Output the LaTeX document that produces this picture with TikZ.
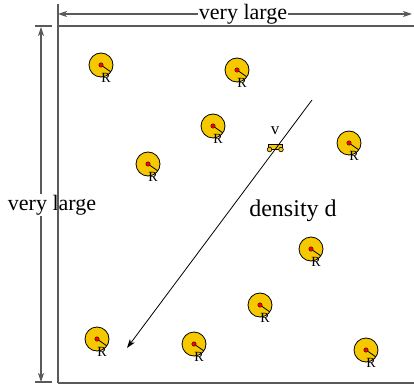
\documentclass[tikz,border=0pt]{standalone}
\usepackage{fontspec}
\setmainfont{Liberation Serif}
\usetikzlibrary{arrows.meta,calc}
\definecolor{disc}{RGB}{245,200,0}
\definecolor{dimgray}{RGB}{90,90,90}
\tikzset{
  disk/.style={circle,draw=black,fill=disc,line width=0.8pt,minimum size=24pt,inner sep=0pt},
  dot/.style={circle,fill=red,draw=black,line width=0.3pt,minimum size=4.5pt,inner sep=0pt},
  rlab/.style={font=\fontsize{14}{14}\selectfont,inner sep=0pt},
  vlabst/.style={font=\fontsize{17}{17}\selectfont,inner sep=0pt},
  dimline/.style={draw=dimgray,line width=1.1pt},
  arr/.style={-{Stealth[length=9pt,width=6pt,inset=2.5pt]}},
  dimarr/.style={{Stealth[length=9pt,width=6pt,inset=2.5pt]}-{Stealth[length=9pt,width=6pt,inset=2.5pt]}},
  biglab/.style={font=\fontsize{22}{22}\selectfont,fill=white,inner sep=1pt},
}
\newcommand{\obstacle}[3]{%
  \node[disk] (#1) at (#2,#3) {};
  \node[dot] (#1c) at (#2,#3) {};
  \coordinate (#1e) at ($(#2,#3)+(10,7)$);
  \draw[line width=0.8pt] (#1c) -- (#1e);
  \node[rlab] (#1r) at ($(#2,#3)+(5,13)$) {R};
}
\begin{document}
\begin{tikzpicture}[x=1pt,y=-1pt]
\useasboundingbox (0,0) rectangle (414,387);
% box
\draw[dimline] (58,383) -- (58,26) -- (416,26);
\draw[dimline] (58,383) -- (416,383);
% top dimension
\coordinate (tl) at (58,14);
\coordinate (tr) at (412,14);
\draw[dimline] (58,4) -- (58,25);
\draw[dimline,dimarr] (tl) -- (tr);
\node[biglab] (toplab) at (243,14) {very large};
% left dimension
\draw[dimline] (35,26) -- (52,26);
\draw[dimline] (35,382) -- (52,382);
\coordinate (lt) at (41,27);
\coordinate (lb) at (41,382);
\draw[dimline,dimarr] (lt) -- (lb);
\node[biglab] (leftlab) at (52,205) {very large};
\draw[dimline] (58,180) -- (58,230);
% obstacles
\obstacle{o1}{101}{65}
\obstacle{o2}{237}{70}
\obstacle{o3}{213}{126}
\obstacle{o4}{148}{164}
\obstacle{o5}{349}{143}
\obstacle{o6}{311}{249}
\obstacle{o7}{260}{305}
\obstacle{o8}{97}{339}
\obstacle{o9}{194}{344}
\obstacle{o10}{366}{350}
% vehicle
\draw[line width=0.6pt,fill=disc] (268,149) -- (268,144.5) -- (282,144.5) -- (282,149) -- cycle;
\draw[line width=0.6pt,fill=disc] (269.5,149.5) circle (2.3);
\draw[line width=0.6pt,fill=disc] (281,149.5) circle (2.3);
\node[vlabst] (vlab) at (275,131) {v};
% motion arrow
\coordinate (ms) at (312,100);
\coordinate (me) at (127,348);
\draw[line width=0.8pt,arr] (ms) -- (me);
\node[font=\fontsize{24}{24}\selectfont,inner sep=0pt] (dens) at (293,211) {density d};
\end{tikzpicture}
\end{document}
